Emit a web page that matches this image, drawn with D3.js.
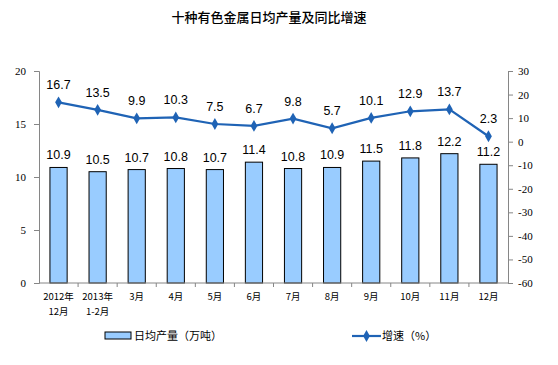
<!DOCTYPE html>
<html>
<head>
<meta charset="utf-8">
<script src="https://cdn.jsdelivr.net/npm/d3@7"></script>
<style>
  body { margin: 0; background: #fff; }
  text { font-family: "Liberation Sans", Arial, sans-serif; }
</style>
</head>
<body>
<div class="chart"></div>
<script>
// chart data
var categories = ["2012年\n12月", "2013年\n1-2月", "3月", "4月", "5月", "6月", "7月", "8月", "9月", "10月", "11月", "12月"];
var output = [10.9, 10.5, 10.7, 10.8, 10.7, 11.4, 10.8, 10.9, 11.5, 11.8, 12.2, 11.2];
var growth = [16.7, 13.5, 9.9, 10.3, 7.5, 6.7, 9.8, 5.7, 10.1, 12.9, 13.7, 2.3];
var leftTicks = [0, 5, 10, 15, 20];
var rightTicks = [30, 20, 10, 0, -10, -20, -30, -40, -50, -60];

var svgWidth = 558, svgHeight = 365;
var margin = { top: 71, bottom: 82, left: 39, right: 50 };
var width = svgWidth - margin.left - margin.right;
var height = svgHeight - margin.top - margin.bottom;

var svg = d3.select(".chart").append("svg")
  .attr("width", svgWidth)
  .attr("height", svgHeight);

// title
svg.append("text")
  .attr("x", 269)
  .attr("y", 22)
  .attr("text-anchor", "middle")
  .style("font-family", "'Noto Sans CJK SC', sans-serif")
  .style("font-size", "13px")
  .style("font-weight", "500")
  .text("十种有色金属日均产量及同比增速");

var chartGroup = svg.append("g")
  .attr("transform", `translate(${margin.left}, ${margin.top})`);

// scales
var xBand = d3.scaleBand()
  .domain(d3.range(categories.length))
  .range([0, width])
  .paddingInner(0.56)
  .paddingOuter(0.28);

var xCenter = i => xBand(i) + xBand.bandwidth() / 2;

var yLeft = d3.scaleLinear().domain([0, 20]).range([height, 0]);
var yRight = d3.scaleLinear().domain([-60, 30]).range([height, 0]);

var axisColor = "#868686";

// bars
chartGroup.selectAll("rect.bar")
  .data(output)
  .enter()
  .append("rect")
  .attr("class", "bar")
  .attr("x", (d, i) => xBand(i))
  .attr("y", d => yLeft(d))
  .attr("width", xBand.bandwidth())
  .attr("height", d => height - yLeft(d))
  .attr("fill", "#99ccff")
  .attr("stroke", "#000")
  .attr("stroke-width", 1);

// bar labels
chartGroup.selectAll("text.barlabel")
  .data(output)
  .enter()
  .append("text")
  .attr("x", (d, i) => xCenter(i))
  .attr("y", d => yLeft(d) - 8)
  .attr("text-anchor", "middle")
  .style("font-size", "12.5px")
  .text(d => d.toFixed(1));

// left axis
var leftAxis = d3.axisLeft(yLeft).tickValues(leftTicks).tickSize(5).tickPadding(8);
var gl = chartGroup.append("g").call(leftAxis);
gl.select(".domain").attr("stroke", axisColor);
gl.selectAll(".tick line").attr("stroke", axisColor);
gl.selectAll(".tick text").style("font-size", "11px").attr("fill", "#000")
  .style("font-family", "'Liberation Serif', serif");

// right axis
var rightAxis = d3.axisRight(yRight).tickValues(rightTicks).tickSize(5).tickPadding(5);
var gr = chartGroup.append("g")
  .attr("transform", `translate(${width}, 0)`)
  .call(rightAxis);
gr.select(".domain").attr("stroke", axisColor);
gr.selectAll(".tick line").attr("stroke", axisColor);
gr.selectAll(".tick text").style("font-size", "11px").attr("fill", "#000")
  .style("font-family", "'Liberation Serif', serif")
  .text(d => d < 0 ? "-" + Math.abs(d) : d);

// x axis line with ticks between categories
chartGroup.append("line")
  .attr("x1", 0).attr("x2", width)
  .attr("y1", height).attr("y2", height)
  .attr("stroke", axisColor);

var step = width / categories.length;
chartGroup.selectAll("line.xtick")
  .data(d3.range(1, categories.length))
  .enter()
  .append("line")
  .attr("x1", d => d * step).attr("x2", d => d * step)
  .attr("y1", height).attr("y2", height + 4)
  .attr("stroke", axisColor);

// x labels
var xl = chartGroup.selectAll("text.xlabel")
  .data(categories)
  .enter()
  .append("text")
  .attr("x", (d, i) => xCenter(i))
  .attr("y", height + 17)
  .attr("text-anchor", "middle")
  .style("font-family", "'Noto Sans CJK SC', sans-serif")
  .style("font-size", "9.5px");

xl.each(function(d) {
  var lines = d.split("\n");
  var t = d3.select(this);
  lines.forEach(function(s, j) {
    t.append("tspan")
      .attr("x", t.attr("x"))
      .attr("dy", j === 0 ? 0 : 15)
      .text(s);
  });
});

// line
var lineColor = "#1f63b5";
var line = d3.line()
  .x((d, i) => xCenter(i))
  .y(d => yRight(d));

chartGroup.append("path")
  .datum(growth)
  .attr("d", line)
  .attr("fill", "none")
  .attr("stroke", lineColor)
  .attr("stroke-width", 2.2);

var diamond = d3.symbol().type(d3.symbolDiamond).size(40);
chartGroup.selectAll("path.marker")
  .data(growth)
  .enter()
  .append("path")
  .attr("d", diamond)
  .attr("transform", (d, i) => `translate(${xCenter(i)}, ${yRight(d)})`)
  .attr("fill", lineColor);

chartGroup.selectAll("text.linelabel")
  .data(growth)
  .enter()
  .append("text")
  .attr("x", (d, i) => xCenter(i))
  .attr("y", d => yRight(d) - 13)
  .attr("text-anchor", "middle")
  .style("font-size", "12.5px")
  .text(d => d.toFixed(1));

// legend
var legend = svg.append("g");
legend.append("rect")
  .attr("x", 105).attr("y", 332)
  .attr("width", 26).attr("height", 7)
  .attr("fill", "#99ccff")
  .attr("stroke", "#000");
legend.append("text")
  .attr("x", 134).attr("y", 340)
  .style("font-family", "'Noto Sans CJK SC', sans-serif")
  .style("font-size", "11px")
  .text("日均产量（万吨）");

legend.append("line")
  .attr("x1", 352).attr("x2", 381)
  .attr("y1", 336).attr("y2", 336)
  .attr("stroke", lineColor)
  .attr("stroke-width", 2.2);
legend.append("path")
  .attr("d", diamond)
  .attr("transform", "translate(366.5, 336)")
  .attr("fill", lineColor);
legend.append("text")
  .attr("x", 382).attr("y", 340)
  .style("font-family", "'Noto Sans CJK SC', sans-serif")
  .style("font-size", "11px")
  .text("增速（%）");
</script>
</body>
</html>
